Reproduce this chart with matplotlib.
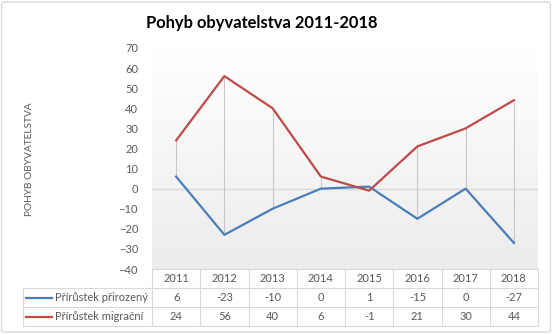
import numpy as np
import matplotlib
matplotlib.use("Agg")
import matplotlib.pyplot as plt
from matplotlib.patches import FancyBboxPatch
from matplotlib.lines import Line2D

plt.rcParams['font.family'] = ['Lato', 'DejaVu Sans']

years = ["2011", "2012", "2013", "2014", "2015", "2016", "2017", "2018"]
prirozeny = [6, -23, -10, 0, 1, -15, 0, -27]
migracni = [24, 56, 40, 6, -1, 21, 30, 44]
series_names = ["Přírůstek přirozený", "Přírůstek migrační"]
colors = ["#4a7ebb", "#be4b48"]

W, H = 553, 335
fig = plt.figure(figsize=(W / 100, H / 100), dpi=100)


def fy(p):
    return 1 - p / H


def fx(p):
    return p / W


# chart border
fig.patches.append(FancyBboxPatch((fx(1.5), fy(332)), fx(549), (332 - 2) / H,
                                  boxstyle="round,pad=0,rounding_size=0.006",
                                  transform=fig.transFigure, fill=False,
                                  edgecolor="#d9d9d9", linewidth=1))

left, right, top, bottom = 152, 538, 48, 269
ax = fig.add_axes([left / W, 1 - bottom / H, (right - left) / W, (bottom - top) / H])

x = np.arange(len(years))
ax.set_xlim(-0.5, len(years) - 0.5)
ax.set_ylim(-40, 70)

# gradient background
grad = np.linspace(1.0, 0.0, 256).reshape(-1, 1)
ax.imshow(grad, extent=[0, 1, 0, 1], transform=ax.transAxes, aspect="auto",
          cmap=matplotlib.colors.LinearSegmentedColormap.from_list("g", ["#ececec", "#ffffff"]),
          zorder=0)

ax.axhline(0, color="#d9d9d9", linewidth=1, zorder=1)
# high-low lines
ax.vlines(x, np.minimum(prirozeny, migracni), np.maximum(prirozeny, migracni),
          color="#c8c8c8", linewidth=0.8, zorder=1)

ax.plot(x, prirozeny, color=colors[0], linewidth=1.6, zorder=3)
ax.plot(x, migracni, color=colors[1], linewidth=1.6, zorder=3)

for s in ax.spines.values():
    s.set_visible(False)
ax.set_xticks([])
ax.set_yticks(range(-40, 71, 10))
ax.tick_params(axis="y", length=0, labelsize=8, labelcolor="#595959", pad=10)

fig.text(fx(30), fy(159), "POHYB OBYVATELSTVA", rotation=90, ha="center",
         va="center", fontsize=7.3, color="#595959")
fig.text(fx(262), fy(23), "Pohyb obyvatelstva 2011-2018", ha="center",
         va="center", fontsize=11.9, fontweight="bold", color="black")

# data table
grid_c = "#d9d9d9"
rows_y = [269, 288, 307, 326]
leg_left = 23
col_w = (right - left) / len(years)

lines = []
lines.append(([fx(left), fx(right)], [fy(rows_y[0])] * 2))
for yy in rows_y[1:]:
    lines.append(([fx(leg_left), fx(right)], [fy(yy)] * 2))
for i in range(len(years) + 1):
    xx = left + i * col_w
    lines.append(([fx(xx)] * 2, [fy(rows_y[0]), fy(rows_y[3])]))
lines.append(([fx(leg_left)] * 2, [fy(rows_y[1]), fy(rows_y[3])]))
for lx, ly in lines:
    fig.add_artist(Line2D(lx, ly, color=grid_c, linewidth=0.8, transform=fig.transFigure))

for i, yr in enumerate(years):
    cx = left + (i + 0.5) * col_w
    fig.text(fx(cx), fy((rows_y[0] + rows_y[1]) / 2), yr, ha="center", va="center",
             fontsize=8, color="#595959")
    for r, vals in enumerate([prirozeny, migracni]):
        cy = (rows_y[r + 1] + rows_y[r + 2]) / 2
        fig.text(fx(cx), fy(cy), str(vals[i]), ha="center", va="center",
                 fontsize=8, color="#595959")

for r, name in enumerate(series_names):
    cy = (rows_y[r + 1] + rows_y[r + 2]) / 2
    fig.add_artist(Line2D([fx(26), fx(52)], [fy(cy)] * 2, color=colors[r],
                          linewidth=1.6, transform=fig.transFigure))
    fig.text(fx(55), fy(cy), name, ha="left", va="center", fontsize=8, color="#595959")

fig.savefig("out.png", dpi=100)
